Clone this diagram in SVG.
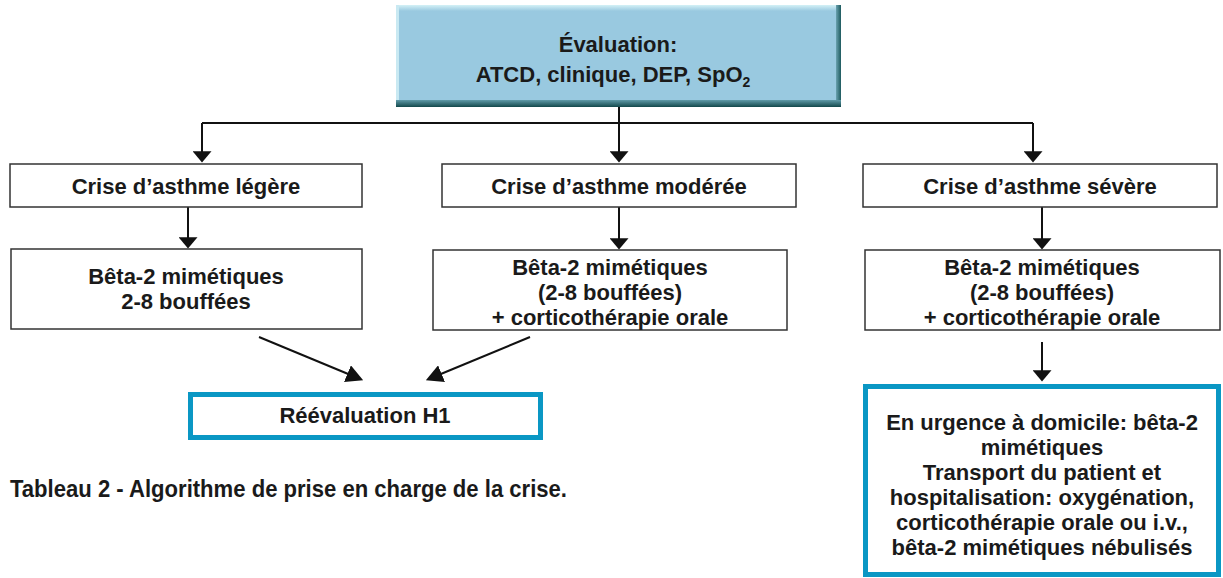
<svg xmlns="http://www.w3.org/2000/svg" width="1223" height="578" viewBox="0 0 1223 578">
  <defs>
    <style>
      .t { font-family: "Liberation Sans", Arial, sans-serif; font-weight: bold; font-size: 22px; fill: #1a1a1a; text-anchor: middle; }
      .box { fill: #ffffff; stroke: #333333; stroke-width: 1.5; }
      .hl { fill: #ffffff; stroke: #0a97c4; stroke-width: 5; }
      .cap { font-family: "Liberation Sans", Arial, sans-serif; font-weight: bold; font-size: 24px; fill: #1a1a1a; }
      .ln { fill: none; stroke: #111111; stroke-width: 2; }
    </style>
    <marker id="ah" viewBox="0 0 12 20" markerUnits="userSpaceOnUse" markerWidth="12" markerHeight="19" refX="4" refY="10" orient="auto">
      <path d="M0,0 L12,10 L0,20 Z" fill="#111111"/>
    </marker>
    <marker id="ahd" viewBox="0 0 17 18" markerUnits="userSpaceOnUse" markerWidth="17" markerHeight="18" refX="6" refY="9" orient="auto">
      <path d="M0,0 L17,9 L0,18 Z" fill="#111111"/>
    </marker>
    <linearGradient id="bottomBand" x1="0" y1="0" x2="0" y2="1">
      <stop offset="0" stop-color="#5f9aa8"/>
      <stop offset="1" stop-color="#12484b"/>
    </linearGradient>
    <linearGradient id="rightBand" x1="0" y1="0" x2="1" y2="0">
      <stop offset="0" stop-color="#6aa2b0"/>
      <stop offset="1" stop-color="#1d5a5e"/>
    </linearGradient>
    <linearGradient id="topBand" x1="0" y1="0" x2="0" y2="1">
      <stop offset="0" stop-color="#d4f1f6"/>
      <stop offset="1" stop-color="#99c9e0"/>
    </linearGradient>
  </defs>

  <!-- connectors -->
  <g id="connectors">
    <polyline class="ln" points="202,123 1033,123"/>
    <line class="ln" x1="619" y1="107" x2="619" y2="155" marker-end="url(#ah)"/>
    <line class="ln" x1="202" y1="123" x2="202" y2="155" marker-end="url(#ah)"/>
    <line class="ln" x1="1033" y1="123" x2="1033" y2="155" marker-end="url(#ah)"/>
    <line class="ln" x1="188" y1="207" x2="188" y2="241" marker-end="url(#ah)"/>
    <line class="ln" x1="619" y1="207" x2="619" y2="242" marker-end="url(#ah)"/>
    <line class="ln" x1="1042" y1="207" x2="1042" y2="242" marker-end="url(#ah)"/>
    <line class="ln" x1="1042" y1="342" x2="1042" y2="374" marker-end="url(#ah)"/>
    <line class="ln" x1="259" y1="337" x2="353" y2="376" marker-end="url(#ahd)"/>
    <line class="ln" x1="530" y1="337" x2="436" y2="376" marker-end="url(#ahd)"/>
  </g>

  <!-- evaluation header -->
  <g id="evaluation">
    <rect x="396" y="5" width="445" height="102" fill="#99c9e0"/>
    <rect x="396" y="5" width="445" height="6" fill="url(#topBand)"/>
    <rect x="396" y="5" width="3" height="102" fill="#c9e9f2"/>
    <rect x="836" y="5" width="5" height="102" fill="url(#rightBand)"/>
    <rect x="396" y="100" width="445" height="7" fill="url(#bottomBand)"/>
    <text class="t" x="618" y="52">Évaluation:</text>
    <text class="t" x="613" y="82">ATCD, clinique, DEP, SpO<tspan font-size="14" dy="5">2</tspan></text>
  </g>

  <g id="crise-legere">
    <rect class="box" x="10" y="164" width="352" height="43"/>
    <text class="t" x="186" y="194">Crise d’asthme légère</text>
  </g>
  <g id="crise-moderee">
    <rect class="box" x="442" y="164" width="354" height="43"/>
    <text class="t" x="619" y="194">Crise d’asthme modérée</text>
  </g>
  <g id="crise-severe">
    <rect class="box" x="863" y="164" width="354" height="43"/>
    <text class="t" x="1040" y="194">Crise d’asthme sévère</text>
  </g>

  <g id="traitement-legere">
    <rect class="box" x="11" y="249" width="351" height="80"/>
    <text class="t" x="186" y="284">Bêta-2 mimétiques</text>
    <text class="t" x="186" y="309">2-8 bouffées</text>
  </g>
  <g id="traitement-moderee">
    <rect class="box" x="433" y="250" width="354" height="80"/>
    <text class="t" x="610" y="275">Bêta-2 mimétiques</text>
    <text class="t" x="610" y="300">(2-8 bouffées)</text>
    <text class="t" x="610" y="325">+ corticothérapie orale</text>
  </g>
  <g id="traitement-severe">
    <rect class="box" x="865" y="250" width="355" height="80"/>
    <text class="t" x="1042" y="275">Bêta-2 mimétiques</text>
    <text class="t" x="1042" y="300">(2-8 bouffées)</text>
    <text class="t" x="1042" y="325">+ corticothérapie orale</text>
  </g>

  <g id="reevaluation">
    <rect class="hl" x="190.5" y="394.5" width="350" height="43"/>
    <text class="t" x="365" y="423">Réévaluation H1</text>
  </g>

  <g id="urgence">
    <rect class="hl" x="865.5" y="386.5" width="353" height="188"/>
    <text class="t" x="1042" y="430">En urgence à domicile: bêta-2</text>
    <text class="t" x="1042" y="455">mimétiques</text>
    <text class="t" x="1042" y="480">Transport du patient et</text>
    <text class="t" x="1042" y="505">hospitalisation: oxygénation,</text>
    <text class="t" x="1042" y="530">corticothérapie orale ou i.v.,</text>
    <text class="t" x="1042" y="555">bêta-2 mimétiques nébulisés</text>
  </g>

  <text class="cap" x="10" y="497" textLength="557" lengthAdjust="spacingAndGlyphs">Tableau 2 - Algorithme de prise en charge de la crise.</text>
</svg>
